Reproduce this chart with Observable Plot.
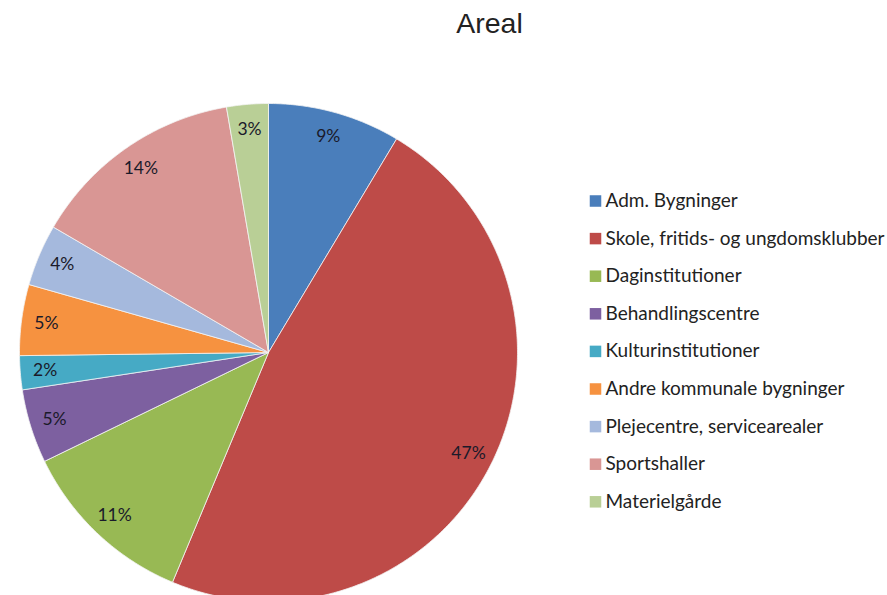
<!DOCTYPE html>
<html>
<head>
<meta charset="utf-8">
<script src="https://cdn.jsdelivr.net/npm/d3@7"></script>
<script src="https://cdn.jsdelivr.net/npm/@observablehq/plot@0.6"></script>
<style>
  html, body { margin: 0; padding: 0; background: #fff; overflow: hidden; }
</style>
</head>
<body>
<div id="chart"></div>
<script>
const title = "Areal";
const categories = [
  "Adm. Bygninger",
  "Skole, fritids- og ungdomsklubber",
  "Daginstitutioner",
  "Behandlingscentre",
  "Kulturinstitutioner",
  "Andre kommunale bygninger",
  "Plejecentre, servicearealer",
  "Sportshaller",
  "Materielgårde"
];
const values = [8.6, 47.7, 11.5, 4.8, 2.2, 4.6, 4.0, 13.9, 2.7];
const labels = ["9%", "47%", "11%", "5%", "2%", "5%", "4%", "14%", "3%"];
const colors = ["#4A7EBB", "#BE4B48", "#98B954", "#7D60A0", "#46AAC5", "#F69240", "#A5B9DD", "#D99694", "#B9CF96"];

// layout
const W = 887, H = 595;
const cx = 268, cy = 352, R = 249;
const px = (x) => (x - cx) / R;   // pixel -> data unit
const py = (y) => (cy - y) / R;

const total = d3.sum(values);
const slices = [];
const labelData = [];
let acc = 0;
values.forEach((v, i) => {
  const a0 = acc / total * 2 * Math.PI;
  acc += v;
  const a1 = acc / total * 2 * Math.PI;
  const n = Math.max(2, Math.ceil((a1 - a0) / 0.01));
  slices.push({cat: categories[i], x: 0, y: 0});
  for (let k = 0; k <= n; k++) {
    const a = a0 + (a1 - a0) * k / n;
    slices.push({cat: categories[i], x: Math.sin(a), y: Math.cos(a)});
  }
  slices.push({cat: categories[i], x: 0, y: 0});
  const am = (a0 + a1) / 2;
  labelData.push({label: labels[i], x: 0.9 * Math.sin(am), y: 0.9 * Math.cos(am)});
});

const legendData = categories.map((c, i) => ({cat: c, x: px(595), tx: px(605), y: py(200.5 + i * 37.6)}));

const chart = Plot.plot({
  width: W,
  height: H,
  margin: 0,
  x: {domain: [-1, 1], range: [cx - R, cx + R], axis: null},
  y: {domain: [-1, 1], range: [cy + R, cy - R], axis: null},
  color: {domain: categories, range: colors},
  style: {background: "#fff", overflow: "hidden"},
  marks: [
    Plot.line(slices, {x: "x", y: "y", z: "cat", fill: "cat", stroke: "#f4f4f4", strokeWidth: 0.8, curve: "linear"}),
    Plot.text(labelData, {x: "x", y: "y", text: "label", fill: "#1a1a2a", fontSize: 17.5, fontFamily: "Lato, 'Open Sans', sans-serif"}),
    Plot.dot(legendData, {x: "x", y: "y", fill: "cat", symbol: "square", r: 6.5, stroke: null}),
    Plot.text(legendData, {x: "tx", y: "y", text: "cat", textAnchor: "start", fill: "#222", fontSize: 19, fontFamily: "Lato, 'Open Sans', sans-serif"}),
    Plot.text([title], {x: px(489), y: py(23), text: d => d, fill: "#222", fontSize: 28.5, fontFamily: "'Liberation Sans', Arial, sans-serif"})
  ]
});
document.getElementById("chart").appendChild(chart);
</script>
</body>
</html>
